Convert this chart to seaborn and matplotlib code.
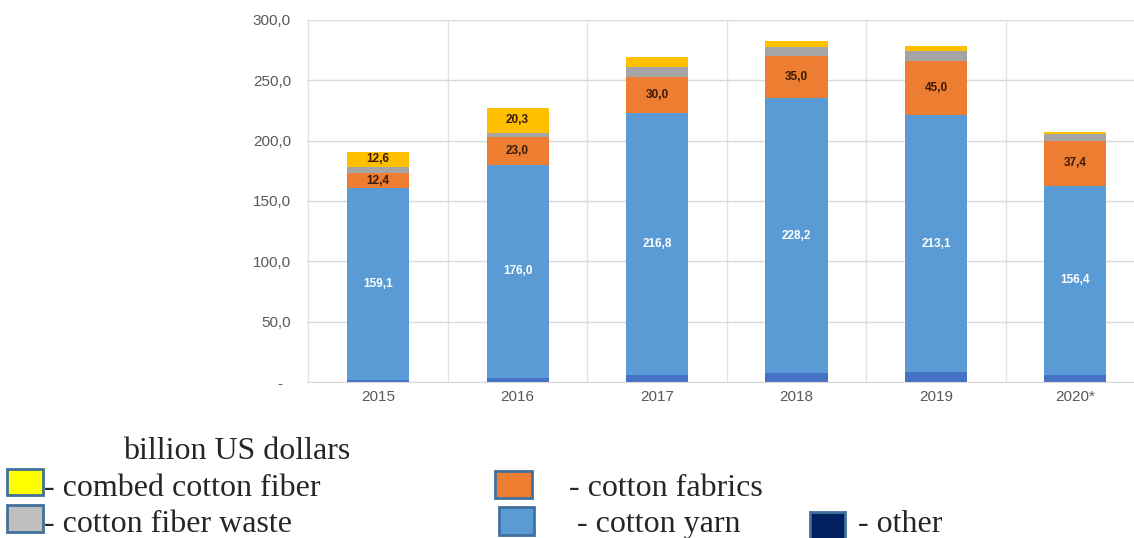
import matplotlib
matplotlib.use("Agg")
import matplotlib.pyplot as plt
import numpy as np
import pandas as pd
import seaborn as sns
from matplotlib.patches import Rectangle
from matplotlib.ticker import FixedLocator

# data (billion US dollars), stacking order bottom -> top
years = ["2015", "2016", "2017", "2018", "2019", "2020*"]
other = [1.6, 3.7, 6.2, 7.2, 8.2, 6.1]
cotton_yarn = [159.1, 176.0, 216.8, 228.2, 213.1, 156.4]
cotton_fabrics = [12.4, 23.0, 30.0, 35.0, 45.0, 37.4]
fiber_waste = [5.0, 4.0, 8.3, 7.4, 8.0, 5.3]
combed_fiber = [12.6, 20.3, 7.7, 4.8, 3.8, 1.6]

series = ["other", "cotton yarn", "cotton fabrics", "cotton fiber waste", "combed cotton fiber"]
bar_colors = ["#4472C4", "#5B9BD5", "#ED7D31", "#A5A5A5", "#FFC000"]
legend_colors = ["#002060", "#5B9BD5", "#ED7D31", "#BFBFBF", "#FFFF00"]

df = pd.DataFrame({
    "year": years,
    "other": other,
    "cotton yarn": cotton_yarn,
    "cotton fabrics": cotton_fabrics,
    "cotton fiber waste": fiber_waste,
    "combed cotton fiber": combed_fiber,
})
cum = df[series].cumsum(axis=1)

sns.set_style("white")
plt.rcParams["font.family"] = ["Liberation Sans", "DejaVu Sans"]

W, H = 1134, 538
fig = plt.figure(figsize=(W / 100, H / 100), dpi=100)
ax = fig.add_axes([307 / W, 1 - 382 / H, 1 - 307 / W, (382 - 20) / H])

# stacked bars: draw cumulative totals from the top layer down
for name, color in reversed(list(zip(series, bar_colors))):
    sns.barplot(x=df["year"], y=cum[name], order=years, color=color,
                width=0.445, saturation=1, ax=ax, linewidth=0)

ax.set_xlim(-0.51, 5.42)
ax.set_ylim(0, 300)
ax.set_xlabel("")
ax.set_ylabel("")

# grid
ax.set_yticks(np.arange(0, 301, 50))
ax.set_yticklabels(["-  "] + [f"{v:.1f}".replace(".", ",") for v in np.arange(50, 301, 50)])
ax.xaxis.set_minor_locator(FixedLocator(np.arange(-0.5, 6, 1)))
ax.grid(axis="y", which="major", color="#D9D9D9", linewidth=1)
ax.grid(axis="x", which="minor", color="#E3E3E3", linewidth=1)
ax.set_axisbelow(True)
for s in ["top", "right", "left"]:
    ax.spines[s].set_visible(False)
ax.spines["bottom"].set_color("#D9D9D9")
ax.tick_params(axis="both", which="both", length=0)
ax.tick_params(axis="y", pad=11.5, labelsize=11, labelcolor="#595959")
ax.tick_params(axis="x", pad=6, labelsize=11, labelcolor="#595959")

# value labels
def fmt(v):
    return f"{v:.1f}".replace(".", ",")

for i in range(len(years)):
    base = other[i]
    ax.text(i, base + cotton_yarn[i] / 2, fmt(cotton_yarn[i]), ha="center", va="center",
            color="white", fontsize=8.5, fontweight="bold")
    base += cotton_yarn[i]
    ax.text(i, base + cotton_fabrics[i] / 2, fmt(cotton_fabrics[i]), ha="center", va="center",
            color="#3A1A08", fontsize=8.5, fontweight="bold")
    if combed_fiber[i] > 10:
        top = cum["combed cotton fiber"][i]
        ax.text(i, top - combed_fiber[i] / 2, fmt(combed_fiber[i]), ha="center", va="center",
                color="#3A1A08", fontsize=8.5, fontweight="bold")

# legend below, drawn as figure text and squares (pixel coords, baseline)
serif = ["Liberation Serif", "DejaVu Serif"]
fs = 23
fig.text(123 / W, 1 - 459 / H, "billion US dollars", fontsize=fs, family=serif, va="baseline")

legend_items = [
    ("combed cotton fiber", (7, 469, 36, 26), (44, 496)),
    ("cotton fiber waste", (7, 505, 36, 27), (44, 532)),
    ("cotton fabrics", (495, 471, 37, 27), (569, 496)),
    ("cotton yarn", (499, 507, 35, 28), (577, 532)),
    ("other", (810, 512, 35, 28), (858, 532)),
]
for name, (rx, ry, rw, rh), (tx, ty) in legend_items:
    col = legend_colors[series.index(name)]
    fig.patches.append(Rectangle((rx / W, 1 - (ry + rh) / H), rw / W, rh / H,
                                 transform=fig.transFigure, facecolor=col,
                                 edgecolor="#41719C", linewidth=2))
    fig.text(tx / W, 1 - ty / H, "- " + name, fontsize=fs, family=serif, va="baseline")

fig.savefig("out.png", dpi=100)
